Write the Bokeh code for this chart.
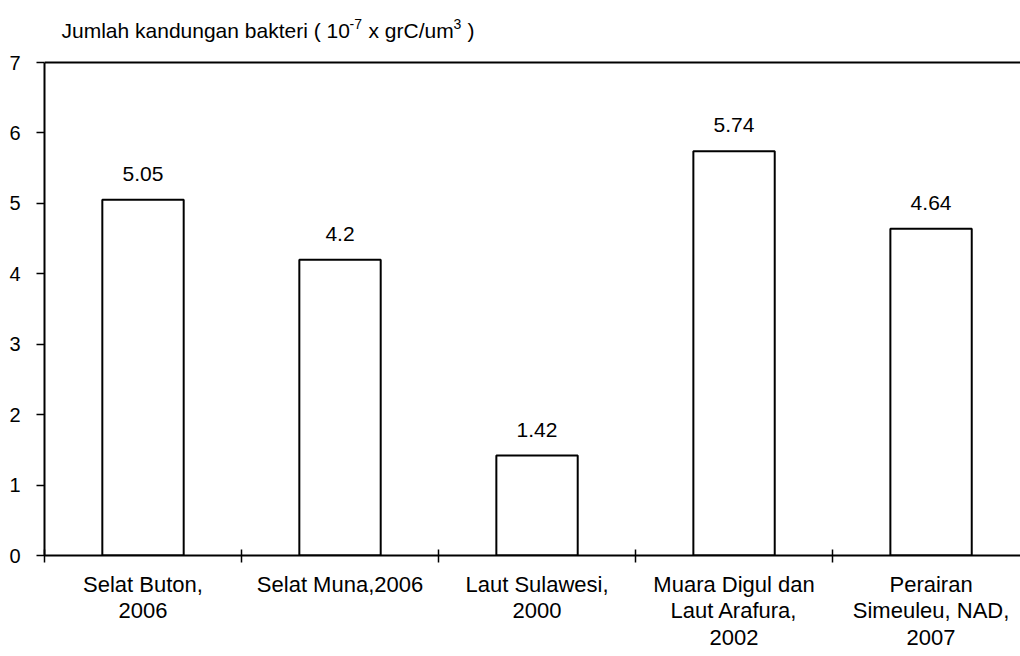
from bokeh.plotting import figure
from bokeh.models import Range1d, FixedTicker, Span, Label, ColumnDataSource
from bokeh.core.properties import value
from bokeh.embed import file_html
from bokeh.resources import INLINE

# ---- data ----
categories = [
    "Selat Buton,\n2006",
    "Selat Muna,2006",
    "Laut Sulawesi,\n2000",
    "Muara Digul dan\nLaut Arafura,\n2002",
    "Perairan\nSimeuleu, NAD,\n2007",
]
bacteria = [5.05, 4.2, 1.42, 5.74, 4.64]
y_ticks = [0, 1, 2, 3, 4, 5, 6, 7]

FONT = "Liberation Sans"

centers = [i + 0.5 for i in range(len(categories))]
bounds = [i for i in range(len(categories) + 1)]

src = ColumnDataSource(dict(x=centers, top=bacteria,
                            lab=[str(v) for v in bacteria]))

# frame: left 44, right 1020, bottom 555, top 5 (title lives inside, above y=7)
p = figure(width=1020, height=656,
           x_range=Range1d(0, 4.954), y_range=Range1d(0, 7.81),
           output_backend="svg", toolbar_location=None,
           min_border_left=44, min_border_right=0,
           min_border_top=5, min_border_bottom=101)
p.xgrid.visible = False
p.ygrid.visible = False
p.outline_line_color = None
p.background_fill_color = "white"
p.border_fill_color = "white"

p.vbar(x="x", top="top", width=0.413, bottom=0, source=src,
       fill_color="white", line_color="black", line_width=2)

p.text(x="x", y="top", text="lab", source=src,
       text_font=value(FONT), text_font_size="21px",
       text_align="center", text_baseline="alphabetic",
       y_offset=-26, text_color="black")

# top border line at y = 7
p.add_layout(Span(location=7, dimension="width", line_color="black", line_width=2))

# x axis
xa = p.xaxis[0]
xa.ticker = FixedTicker(ticks=centers, minor_ticks=bounds)
xa.major_label_overrides = {c: lab for c, lab in zip(centers, categories)}
xa.major_tick_in = 0
xa.major_tick_out = 0
xa.minor_tick_in = 6
xa.minor_tick_out = 7
xa.minor_tick_line_color = "black"
xa.minor_tick_line_width = 1.5
xa.axis_line_color = "black"
xa.axis_line_width = 2
xa.major_label_text_font = FONT
xa.major_label_text_font_size = "22px"
xa.major_label_text_color = "black"
xa.major_label_text_line_height = 1.07
xa.major_label_standoff = 9

# y axis
ya = p.yaxis[0]
ya.ticker = FixedTicker(ticks=y_ticks)
ya.bounds = (0, 7)
ya.major_tick_in = 0
ya.major_tick_out = 8
ya.minor_tick_in = 0
ya.minor_tick_out = 0
ya.major_tick_line_color = "black"
ya.major_tick_line_width = 1.5
ya.axis_line_color = "black"
ya.axis_line_width = 2
ya.major_label_text_font = FONT
ya.major_label_text_font_size = "20px"
ya.major_label_text_color = "black"
ya.major_label_standoff = 16

# title (with superscripts) above the y = 7 line
def px2x(px):
    return (px - 44) / 197.0

def py2y(py):
    return (555 - py) / 70.43

title_parts = [
    ("Jumlah kandungan bakteri ( 10", 61, 30, "21px"),
    ("-7", 349, 23, "14px"),
    ("x grC/um", 368, 30, "21px"),
    ("3", 453, 23, "14px"),
    (")", 467, 30, "21px"),
]
for txt, px, py, fs in title_parts:
    p.add_layout(Label(x=px2x(px), y=py2y(py), text=txt,
                       text_font=FONT, text_font_size=fs,
                       text_baseline="alphabetic", text_align="left",
                       text_color="black"))

open("out.html", "w").write(file_html(p, INLINE))
